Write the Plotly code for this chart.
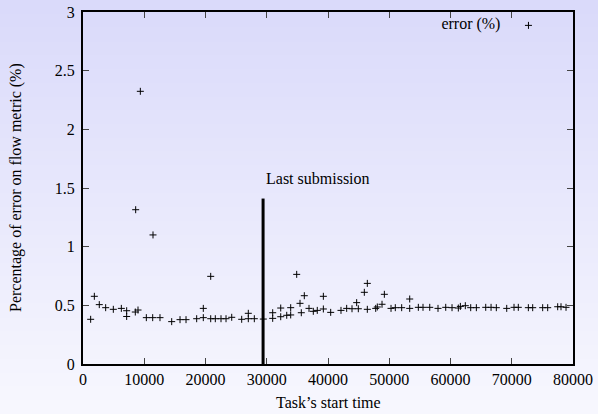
import plotly.graph_objects as go

# Task start times (s) and error (%)
task_start = [1250, 1850, 2660, 3700, 4950, 6260, 7130, 7130, 8540, 8600, 8980, 9360,
              10340, 11380, 11430, 12570, 14480, 15840, 16820, 18560, 19640, 19640,
              20850, 20850, 21600, 22530, 23350, 24280, 25910, 26990, 26990, 27970,
              29440, 30970, 30970, 32280, 32280, 33260, 33910, 33910, 34890, 35430,
              35640, 36130, 36900, 37600, 38250, 39240, 39240, 40440, 42120, 43050,
              43920, 44680, 44950, 45930, 46420, 46420, 47790, 48050, 48820, 49200,
              50290, 50990, 52030, 53340, 53340, 54750, 55510, 56610, 57960, 59220,
              60250, 61280, 61610, 62420, 63300, 64220, 65750, 66620, 67480, 69180,
              70370, 71070, 72710, 73420, 75050, 75870, 77500, 78040, 78860]
error_pct = [0.381, 0.577, 0.506, 0.480, 0.466, 0.474, 0.454, 0.405, 0.443, 1.315, 0.460, 2.324,
             0.395, 0.395, 1.100, 0.395, 0.361, 0.378, 0.378, 0.386, 0.395, 0.474,
             0.747, 0.386, 0.386, 0.386, 0.386, 0.398, 0.381, 0.386, 0.432, 0.386,
             0.383, 0.389, 0.437, 0.403, 0.477, 0.415, 0.418, 0.480, 0.764, 0.517,
             0.437, 0.582, 0.474, 0.449, 0.457, 0.577, 0.469, 0.440, 0.457, 0.474,
             0.471, 0.523, 0.471, 0.611, 0.687, 0.466, 0.474, 0.486, 0.509, 0.594,
             0.474, 0.480, 0.480, 0.554, 0.474, 0.483, 0.483, 0.483, 0.474, 0.483,
             0.480, 0.477, 0.491, 0.497, 0.480, 0.480, 0.483, 0.483, 0.480, 0.474,
             0.483, 0.483, 0.480, 0.480, 0.480, 0.480, 0.488, 0.488, 0.483]

submission_x = [29400, 29400]
submission_y = [0, 1.41]
submission_label = "Last submission"
label_pos = (38400, 1.585)

x_ticks = [0, 10000, 20000, 30000, 40000, 50000, 60000, 70000, 80000]
x_tick_text = ["0", "10000", "20000", "30000", "40000", "50000", "60000", "70000", "80000"]
y_ticks = [0, 0.5, 1, 1.5, 2, 2.5, 3]
y_tick_text = ["0", "0.5", "1", "1.5", "2", "2.5", "3"]
x_title = "Task’s start time"
y_title = "Percentage of error on flow metric (%)"
legend_label = "error (%)"

FONT = "Liberation Serif"
FS = 16
W, H = 598, 414
ML, MR, MT, MB = 83, 25, 12, 50
pw, ph = W - ML - MR, H - MT - MB

fig = go.Figure()
fig.add_trace(go.Scatter(
    x=task_start, y=error_pct, mode="markers", name="",
    marker=dict(symbol="cross-thin", size=5, line=dict(width=1, color="black"), color="black"),
    showlegend=True,
))
fig.add_trace(go.Scatter(
    x=submission_x, y=submission_y, mode="lines",
    line=dict(color="black", width=3), showlegend=False, hoverinfo="skip",
))
fig.add_annotation(x=label_pos[0], y=label_pos[1], text=submission_label, showarrow=False,
                   font=dict(family=FONT, size=FS, color="black"))
# axis titles
fig.add_annotation(xref="paper", yref="paper", x=0.5, y=(364 - 402) / ph, text=x_title,
                   showarrow=False, xanchor="center", yanchor="middle",
                   font=dict(family=FONT, size=FS, color="black"))
fig.add_annotation(xref="paper", yref="paper", x=(16 - ML) / pw, y=0.5, text=y_title,
                   showarrow=False, xanchor="center", yanchor="middle", textangle=-90,
                   font=dict(family=FONT, size=FS, color="black"))

# background gradient bands
shapes = []
n = 60
y0p, y1p = -MB / ph, 1 + MT / ph
x0p, x1p = -ML / pw, 1 + MR / pw
top = (218, 218, 250)
bot = (247, 247, 254)
for i in range(n):
    t = i / (n - 1)
    c = tuple(round(bot[k] + (top[k] - bot[k]) * t) for k in range(3))
    ya = y0p + (y1p - y0p) * i / n
    yb = y0p + (y1p - y0p) * (i + 1) / n + 0.002
    shapes.append(dict(type="rect", xref="paper", yref="paper", x0=x0p, x1=x1p, y0=ya, y1=yb,
                       fillcolor="rgb(%d,%d,%d)" % c, line=dict(width=0), layer="below"))

fig.update_layout(
    width=W, height=H,
    margin=dict(l=ML, r=MR, t=MT, b=MB, autoexpand=False),
    paper_bgcolor="rgba(0,0,0,0)", plot_bgcolor="rgba(0,0,0,0)",
    shapes=shapes,
    font=dict(family=FONT, size=FS, color="black"),
    showlegend=True,
    legend=dict(x=0.962, y=1.01, xanchor="right", yanchor="top", bgcolor="rgba(0,0,0,0)",
                title=dict(text=legend_label, side="left", font=dict(family=FONT, size=FS)),
                font=dict(family=FONT, size=FS), itemwidth=30),
    xaxis=dict(range=[0, 80000], tickvals=x_ticks, ticktext=x_tick_text, ticks="inside",
               ticklen=6, tickwidth=1,
               showline=True, linecolor="black", linewidth=2, mirror="ticks", showgrid=False,
               zeroline=False, tickfont=dict(family=FONT, size=FS)),
    yaxis=dict(range=[0, 3], tickvals=y_ticks, ticktext=y_tick_text, ticks="inside", ticklen=6,
               tickwidth=1, showline=True, linecolor="black", linewidth=2, mirror="ticks",
               showgrid=False, zeroline=False, ticklabelstandoff=3,
               tickfont=dict(family=FONT, size=FS)),
)
fig.write_html("out.html", config={"displayModeBar": False},
               post_script="document.body.style.margin='0';")
